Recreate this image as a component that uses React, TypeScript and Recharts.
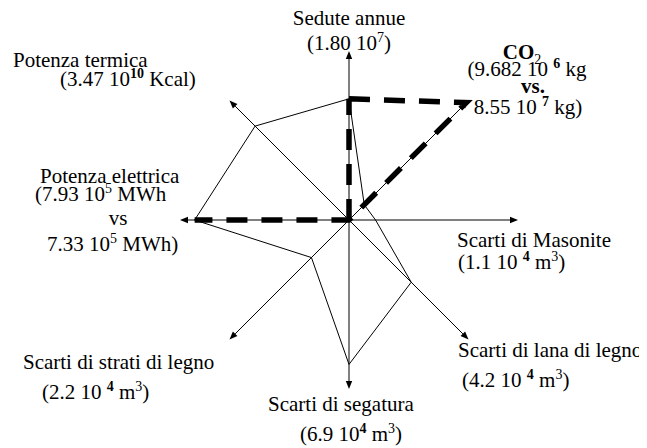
import React from "react";
import { PolarAngleAxis, PolarRadiusAxis, Radar, RadarChart } from "recharts";

// axes, clockwise from the top
const CATEGORIES = [
  "Sedute annue",
  "CO2",
  "Scarti di Masonite",
  "Scarti di lana di legno",
  "Scarti di segatura",
  "Scarti di strati di legno",
  "Potenza elettrica",
  "Potenza termica",
];

// normalised values (0..1)
const THIN_VALUES = [0.73, 0.13, 0.16, 0.53, 0.87, 0.32, 0.93, 0.8];
const DASHED_VALUES = [0.73, 1.0, 0, 0, 0, 0, 0.93, 0];

// label lines; ^{..} superscript, ^b{..} bold superscript, _{..} subscript, *{..} bold
const LABEL_LINES = [
  ["Sedute annue", "(1.80 10^{7})"],
  ["*{CO}_{2}", "(9.682 10 ^b{6} kg", "*{vs.}", "8.55 10 ^b{7} kg)"],
  ["Scarti di Masonite", "(1.1 10 ^b{4} m^{3})"],
  ["Scarti di lana di legno", "(4.2 10 ^b{4} m^{3})"],
  ["Scarti di segatura", "(6.9 10^b{4} m^{3})"],
  ["Scarti di strati di legno", "(2.2 10 ^b{4} m^{3})"],
  ["Potenza elettrica", "(7.93 10^{5} MWh", "vs", "7.33 10^{5} MWh)"],
  ["Potenza termica", "(3.47 10^b{10} Kcal)"],
];

const data = CATEGORIES.map((axis, i) => ({
  axis,
  thin: THIN_VALUES[i],
  dashed: DASHED_VALUES[i],
}));

const W = 639;
const H = 440;
const CX = 341;
const CY = 212;
const R = 166;
const FONT = '"Liberation Serif", "Times New Roman", Times, serif';

// label placement, offsets from the tick point: [dx, dy, anchor]
const LABEL_LAYOUT: [number, number, string][][] = [
  [[0, -21, "middle"], [0, 4, "middle"]],
  [[50, -38, "middle"], [55, -21, "middle"], [61, -4, "middle"], [56, 17, "middle"]],
  [[-66, 27, "start"], [-65, 49, "start"]],
  [[-14, 14, "start"], [-10, 44, "start"]],
  [[-81, 17, "start"], [-49, 47, "start"]],
  [[-203, 26, "start"], [-184, 56, "start"]],
  [[-135, -37, "start"], [-140, -19, "start"], [-57, 5, "middle"], [-128, 31, "start"]],
  [[-213, -30, "start"], [-166, -11, "start"]],
];

function RichLine({ text }: { text: string }) {
  const parts = text.split(/(\^b?\{[^}]*\}|_\{[^}]*\}|\*\{[^}]*\})/).filter(Boolean);
  let shift = 0;
  return (
    <>
      {parts.map((p, i) => {
        let content = p;
        let target = 0;
        let size: number | undefined;
        let bold = false;
        if (p.startsWith("^b{")) {
          content = p.slice(3, -1);
          target = -8;
          size = 14;
          bold = true;
        } else if (p.startsWith("^{")) {
          content = p.slice(2, -1);
          target = -8;
          size = 14;
        } else if (p.startsWith("_{")) {
          content = p.slice(2, -1);
          target = 5;
          size = 14;
        } else if (p.startsWith("*{")) {
          content = p.slice(2, -1);
          bold = true;
        }
        const dy = target - shift;
        shift = target;
        return (
          <tspan key={i} dy={dy || undefined} fontSize={size} fontWeight={bold ? "bold" : undefined}>
            {content}
          </tspan>
        );
      })}
    </>
  );
}

function AxisTick(props: any) {
  const { x, y, index, payload } = props;
  const cx = typeof props.cx === "number" ? props.cx : CX;
  const cy = typeof props.cy === "number" ? props.cy : CY;
  const a = (payload.coordinate * Math.PI) / 180;
  const ux = Math.cos(a);
  const uy = -Math.sin(a);
  const tipX = cx + ux * (R + 3);
  const tipY = cy + uy * (R + 3);
  const bx = tipX - ux * 8;
  const by = tipY - uy * 8;
  const px = -uy * 3.2;
  const py = ux * 3.2;
  const lines = LABEL_LINES[index] || [];
  const layout = LABEL_LAYOUT[index] || [];
  return (
    <g>
      <line x1={cx} y1={cy} x2={bx} y2={by} stroke="#000" strokeWidth={1} />
      <polygon
        points={`${tipX},${tipY} ${bx + px},${by + py} ${bx - px},${by - py}`}
        fill="#000"
      />
      {lines.map((ln, i) => {
        const [dx, dy, anchor] = layout[i] || [0, 0, "middle"];
        return (
          <text
            key={i}
            x={x + dx}
            y={y + dy}
            textAnchor={anchor as any}
            style={{ fontFamily: FONT, fontSize: 21 }}
            fill="#000"
          >
            <RichLine text={ln} />
          </text>
        );
      })}
    </g>
  );
}

// draws the polygon through the library's points, skipping
// zero-length and back-tracking segments so dashes stay visible
function DashedShape(props: any) {
  const pts: { x: number; y: number }[] = props.points || [];
  const same = (a: any, b: any) => Math.abs(a.x - b.x) < 0.5 && Math.abs(a.y - b.y) < 0.5;
  const drawn: [any, any][] = [];
  let d = "";
  let last: any = null;
  for (let i = 0; i < pts.length; i++) {
    const a = pts[i];
    const b = pts[(i + 1) % pts.length];
    if (same(a, b)) continue;
    if (drawn.some(([p, q]) => (same(p, b) && same(q, a)) || (same(p, a) && same(q, b)))) continue;
    if (!last || !same(last, a)) d += `M${a.x},${a.y}`;
    d += `L${b.x},${b.y}`;
    drawn.push([a, b]);
    last = b;
  }
  return (
    <path
      d={d}
      fill="none"
      stroke="#000"
      strokeWidth={5.5}
      strokeDasharray="21 14"
      strokeLinejoin="miter"
    />
  );
}

export default function App() {
  return (
    <div style={{ width: W, height: H, background: "#fff" }}>
      <RadarChart
        width={W}
        height={H}
        data={data}
        cx={CX}
        cy={CY}
        outerRadius={R}
        margin={{ top: 0, right: 0, bottom: 0, left: 0 }}
      >
        <PolarAngleAxis
          dataKey="axis"
          tick={(p: any) => <AxisTick {...p} />}
          tickLine={false}
          axisLine={false}
        />
        <PolarRadiusAxis domain={[0, 1]} tick={false} axisLine={false} />
        <Radar
          dataKey="thin"
          stroke="#000"
          strokeWidth={1}
          fill="none"
          fillOpacity={0}
          dot={false}
          isAnimationActive={false}
        />
        <Radar
          dataKey="dashed"
          shape={(p: any) => <DashedShape {...p} />}
          stroke="#000"
          fill="none"
          dot={false}
          isAnimationActive={false}
        />
      </RadarChart>
    </div>
  );
}
